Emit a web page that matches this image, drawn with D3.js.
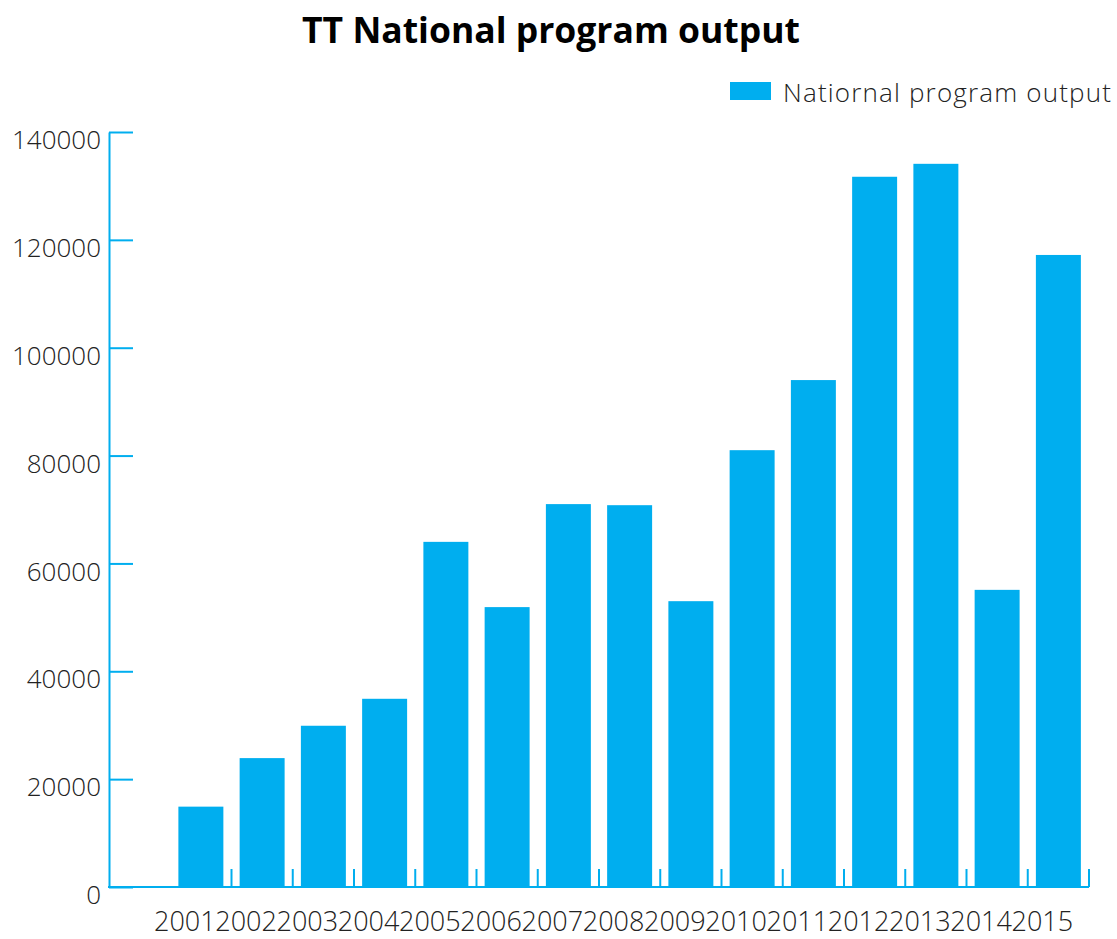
<!DOCTYPE html>
<html>
<head>
<meta charset="utf-8">
<script src="https://cdn.jsdelivr.net/npm/d3@7/dist/d3.min.js"></script>
<style>
  html, body { margin: 0; padding: 0; background: #fff; }
  svg { display: block; }
</style>
</head>
<body>
<svg id="chart" width="1117" height="939"></svg>
<script>
const titleText = "TT National program output";
const seriesName = "Natiornal program output";
const categories = ["2001","2002","2003","2004","2005","2006","2007","2008","2009","2010","2011","2012","2013","2014","2015"];
const values = [14900, 23900, 29900, 34900, 64000, 51900, 71000, 70800, 53000, 81000, 94000, 131700, 134100, 55100, 117200];
const yTicks = [0, 20000, 40000, 60000, 80000, 100000, 120000, 140000];

const blue = "#00AEEF";
const svg = d3.select("#chart");

const axisX0 = 109, plotLeft = 170.25, plotRight = 1089;
const plotTop = 132, plotBottom = 887;

const pad = 0.2655;
const x = d3.scaleBand().domain(categories).range([plotLeft, plotRight])
  .paddingInner(pad).paddingOuter(pad / 2);
const y = d3.scaleLinear().domain([0, 140000]).range([plotBottom, plotTop]);

// Title
svg.append("text")
  .attr("x", 551).attr("y", 43)
  .attr("text-anchor", "middle")
  .attr("font-family", "'Open Sans', sans-serif")
  .attr("font-weight", 700)
  .attr("font-size", 35.5)
  .attr("fill", "#000")
  .text(titleText);

// Legend
svg.append("rect").attr("x", 730).attr("y", 82).attr("width", 41).attr("height", 18).attr("fill", blue);
svg.append("text")
  .attr("x", 783).attr("y", 102)
  .attr("font-family", "'Open Sans', sans-serif")
  .attr("font-weight", 300)
  .attr("font-size", 26)
  .attr("textLength", 328)
  .attr("lengthAdjust", "spacing")
  .attr("fill", "#222")
  .text(seriesName);

// Bars
svg.append("g").selectAll("rect").data(categories).join("rect")
  .attr("x", d => x(d))
  .attr("width", x.bandwidth())
  .attr("y", (d, i) => y(values[i]))
  .attr("height", (d, i) => y(0) - y(values[i]))
  .attr("fill", blue);

// Y axis
const yAxis = d3.axisLeft(y).tickValues(yTicks).tickSize(-24).tickSizeOuter(0).tickPadding(8)
  .tickFormat(d3.format("d"));
const gy = svg.append("g").attr("transform", `translate(${axisX0},0)`).call(yAxis);
gy.select(".domain").attr("stroke", blue).attr("stroke-width", 2);
gy.selectAll(".tick line").attr("stroke", blue).attr("stroke-width", 2);
gy.selectAll(".tick text")
  .attr("font-family", "'Open Sans', sans-serif")
  .attr("font-weight", 300)
  .attr("font-size", 26)
  .attr("fill", "#222")
  .attr("dy", "0.95em")
  .attr("transform", "translate(0,-8)");

// X baseline and ticks
const step = x.step();
const gx = svg.append("g");
gx.append("line")
  .attr("x1", axisX0 - 1).attr("x2", plotRight)
  .attr("y1", y(0)).attr("y2", y(0))
  .attr("stroke", blue).attr("stroke-width", 2);
gx.selectAll("line.tk").data(categories).join("line")
  .attr("class", "tk")
  .attr("x1", d => x(d) + x.bandwidth() + step * pad / 2)
  .attr("x2", d => x(d) + x.bandwidth() + step * pad / 2)
  .attr("y1", y(0)).attr("y2", y(0) - 18)
  .attr("stroke", blue).attr("stroke-width", 2);
gx.selectAll("text").data(categories).join("text")
  .attr("x", d => x(d) + x.bandwidth() / 2 - 16)
  .attr("y", 931)
  .attr("text-anchor", "middle")
  .attr("font-family", "'Open Sans', sans-serif")
  .attr("font-weight", 300)
  .attr("font-size", 27)
  .attr("fill", "#222")
  .text(d => d);
</script>
</body>
</html>
